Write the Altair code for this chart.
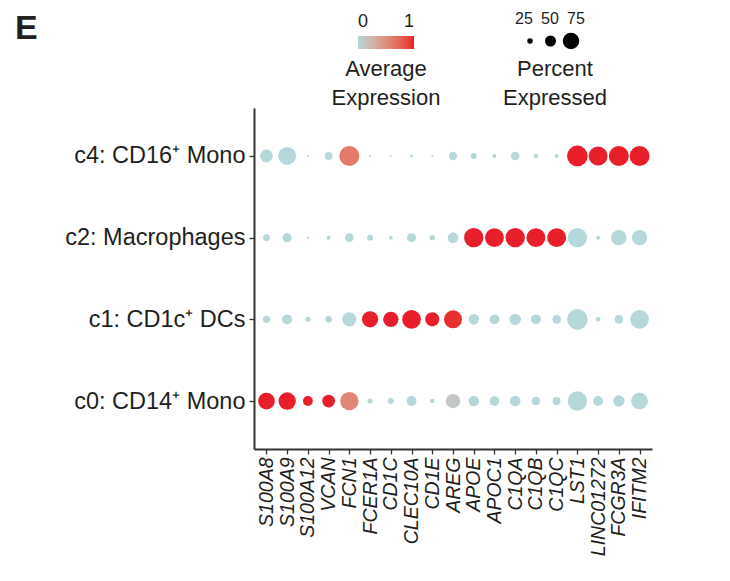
import altair as alt
import pandas as pd

genes = ["S100A8", "S100A9", "S100A12", "VCAN", "FCN1", "FCER1A", "CD1C", "CLEC10A",
         "CD1E", "AREG", "APOE", "APOC1", "C1QA", "C1QB", "C1QC", "LST1", "LINC01272",
         "FCGR3A", "IFITM2"]
clusters = ["c4: CD16\u207a Mono", "c2: Macrophages", "c1: CD1c\u207a DCs", "c0: CD14\u207a Mono"]

pct_c4 = [58, 82, 9, 36, 91, 9, 9, 14, 9, 38, 27, 18, 39, 21, 18, 94, 86, 91, 91]
pct_c2 = [30, 42, 11, 18, 39, 27, 18, 41, 24, 48, 88, 86, 88, 86, 86, 88, 18, 70, 70]
pct_c1 = [33, 45, 23, 30, 64, 74, 70, 85, 64, 82, 48, 45, 52, 45, 39, 94, 21, 39, 85]
pct_c0 = [76, 79, 45, 58, 83, 24, 27, 45, 21, 65, 48, 44, 48, 39, 36, 88, 45, 52, 76]

avg_c4 = [0, 0, 0, 0, 0.62, 0, 0, 0, 0, 0, 0, 0, 0, 0, 0, 1, 1, 1, 1]
avg_c2 = [0, 0, 0, 0, 0, 0, 0, 0, 0, 0, 1, 1, 1, 1, 1, 0, 0, 0, 0]
avg_c1 = [0, 0, 0, 0, 0, 1, 1, 1, 1, 0.96, 0, 0, 0, 0, 0, 0, 0, 0, 0]
avg_c0 = [1, 1, 1, 1, 0.55, 0, 0, 0, 0, 0.11, 0, 0, 0, 0, 0, 0, 0, 0, 0]

size_legend_values = [25, 50, 75]
color_legend_values = [0, 1]
panel_label = ["E"]
size_title = ["Percent Expressed"]

pct_rows = [pct_c4, pct_c2, pct_c1, pct_c0]
avg_rows = [avg_c4, avg_c2, avg_c1, avg_c0]

records = []
for cl, prow, arow in zip(clusters, pct_rows, avg_rows):
    for g, p, a in zip(genes, prow, arow):
        records.append({"cluster": cl, "gene": g, "pct": p, "avg": a})
df = pd.DataFrame(records)
legend_df = pd.DataFrame({"pct": size_legend_values, "label": [str(v) for v in size_legend_values]})

FONT = "Liberation Sans"
INK = "#231F20"

size_scale = alt.Scale(type="pow", exponent=2, domain=[0, 100], range=[0, 484])

color_legend = alt.Legend(
    orient="none", legendX=78, legendY=-72, direction="horizontal",
    gradientLength=56, gradientThickness=13, gradientStrokeWidth=0,
    values=color_legend_values, format="d",
    labelOffset={"expr": "-36.5"}, labelFontSize=18, labelFont=FONT, labelColor=INK,
    title=["Average", "Expression"], titleOrient="bottom", titleAnchor="middle",
    titleFontSize=22, titleFontWeight="normal", titleFont=FONT, titleColor=INK,
    titleLineHeight=29, titlePadding=10, titleBaseline="top",
)

main = alt.Chart(df).mark_circle(opacity=1).encode(
    x=alt.X("gene:N", sort=genes, scale=alt.Scale(type="point", padding=0.6),
            axis=alt.Axis(title=None, labelAngle=270, labelFontStyle="italic",
                          labelFontSize=19.5, labelFont=FONT, labelColor=INK,
                          domainColor="#333333", domainWidth=2, tickColor="#333333",
                          tickSize=5, tickWidth=1.3, labelPadding=3, grid=False)),
    y=alt.Y("cluster:N", sort=clusters, scale=alt.Scale(type="point", padding=0.587),
            axis=alt.Axis(title=None, labelFontSize=23.5, labelFont=FONT, labelColor=INK,
                          labelLimit=400,
                          domainColor="#333333", domainWidth=2, tickColor="#333333",
                          tickSize=5, tickWidth=1.3, labelPadding=4, grid=False)),
    size=alt.Size("pct:Q", scale=size_scale, legend=None),
    color=alt.Color("avg:Q", scale=alt.Scale(domain=[0, 1], range=["#B6D8DA", "#E81E2A"], interpolate="lab"),
                    legend=color_legend),
)

# size legend (keys sit above the dots, as in the reference)
legend_dots = alt.Chart(legend_df).mark_circle(opacity=1, color="black").encode(
    x=alt.X("pct:O", scale=alt.Scale(type="point", range=[276, 317], padding=0), axis=None),
    y=alt.value(-67),
    size=alt.Size("pct:Q", scale=size_scale, legend=None),
)
legend_labels = alt.Chart(legend_df).mark_text(
    fontSize=16, font=FONT, color=INK, baseline="middle", align="center"
).encode(
    x=alt.X("pct:O", scale=alt.Scale(type="point", range=[270, 322], padding=0), axis=None),
    y=alt.value(-89.5),
    text="label:N",
)
legend_title = alt.Chart(pd.DataFrame({"t": size_title})).mark_text(
    fontSize=22, font=FONT, color=INK, baseline="top", align="center",
    lineBreak=" ", lineHeight=29,
).encode(x=alt.value(301), y=alt.value(-48.6), text="t:N")

panel = alt.Chart(pd.DataFrame({"p": panel_label})).mark_text(
    fontSize=34, font=FONT, fontWeight="bold", color=INK, baseline="alphabetic", align="left"
).encode(x=alt.value(-239), y=alt.value(-69.5), text="p:N")

chart = alt.layer(main, legend_dots, legend_labels, legend_title, panel).resolve_scale(
    x="independent"
).properties(
    width=398, height=341,
    padding={"left": 7, "top": 2, "right": 5, "bottom": 5},
).configure_view(stroke=None)

chart.save("out.html", embed_options={"renderer": "svg", "actions": False})
